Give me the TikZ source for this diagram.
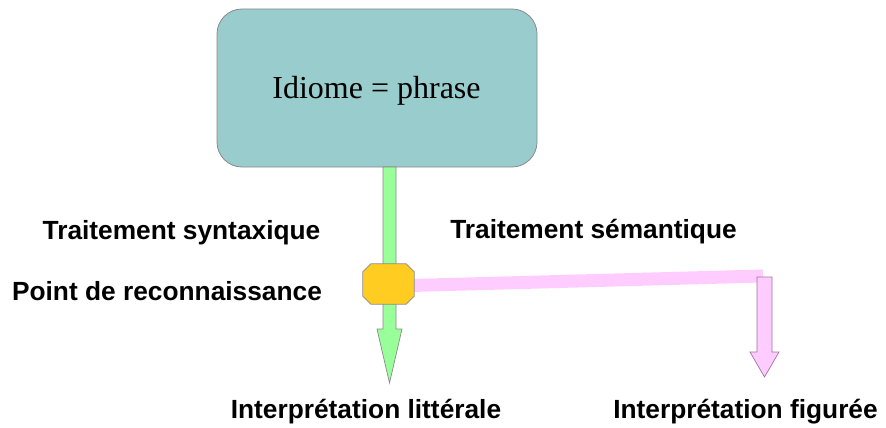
\documentclass[tikz,border=0pt]{standalone}
\usepackage{fontspec}
\setmainfont{Liberation Serif}
\setsansfont{Liberation Sans}
\definecolor{boxteal}{HTML}{99CCCC}
\definecolor{arrgreen}{HTML}{99FF99}
\definecolor{octyellow}{HTML}{FFCC22}
\definecolor{barpink}{HTML}{FFCCFF}
\definecolor{pinkedge}{HTML}{A070A0}
\definecolor{edgegray}{HTML}{8A8A8A}
\tikzset{
  lbl/.style={font=\sffamily\bfseries\fontsize{26.3}{31}\selectfont, anchor=base, inner sep=0pt},
  mainbox/.style={draw=edgegray, fill=boxteal, rounded corners=25pt, minimum width=320pt, minimum height=158pt, inner sep=0pt, line width=0.8pt},
  octa/.style={minimum width=51pt, minimum height=40pt, inner sep=0pt},
  octfill/.style={draw=edgegray, fill=octyellow, line width=0.8pt},
  greenarrow/.style={draw=edgegray, fill=arrgreen, line width=0.7pt, line join=miter},
  pinkarrow/.style={draw=pinkedge, fill=barpink, line width=0.7pt, line join=miter}
}
\begin{document}
\begin{tikzpicture}[x=1pt,y=-1pt]
\useasboundingbox (0,0) rectangle (886,428);
% main box
\node[mainbox] (box) at (377,88) {};
\node[font=\fontsize{32}{38}\selectfont, anchor=base, inner sep=0pt] (title) at (376.5,98) {Idiome = phrase};
% green arrow
\coordinate (gtop) at (389.5,167);
\coordinate (gtip) at (389.5,383);
\path[greenarrow] ([xshift=-6.5pt]gtop) -- ([xshift=-6.5pt]gtop |- 0,329) -- ([xshift=-12.5pt]gtop |- 0,329) -- (gtip) -- ([xshift=12.5pt]gtop |- 0,329) -- ([xshift=6.5pt]gtop |- 0,329) -- ([xshift=6.5pt]gtop) -- cycle;
% pink bar
\coordinate (pend) at (763,276);
\coordinate (pstart) at (410,285.5);
\draw[barpink, line width=13pt] (pstart) -- (pend);
% pink arrow
\coordinate (ptop) at (764.5,277);
\coordinate (ptip) at (764.5,377);
\path[pinkarrow] ([xshift=-7.5pt]ptop) -- ([xshift=-7.5pt]ptop |- 0,352) -- ([xshift=-14.5pt]ptop |- 0,352) -- (ptip) -- ([xshift=14.5pt]ptop |- 0,352) -- ([xshift=7.5pt]ptop |- 0,352) -- ([xshift=7.5pt]ptop) -- cycle;
% octagon
\node[octa] (oct) at (388.5,284) {};
\path[octfill] ([xshift=8pt]oct.north west) -- ([xshift=-8pt]oct.north east) -- ([yshift=-8pt]oct.north east) -- ([yshift=8pt]oct.south east) -- ([xshift=-8pt]oct.south east) -- ([xshift=8pt]oct.south west) -- ([yshift=8pt]oct.south west) -- ([yshift=-8pt]oct.north west) -- cycle;
% labels
\node[lbl] (ts) at (181.5,239) {Traitement syntaxique};
\node[lbl] (pr) at (167,300) {Point de reconnaissance};
\node[lbl] (tsem) at (593.5,238) {Traitement sémantique};
\node[lbl] (il) at (366,418) {Interprétation littérale};
\node[lbl] (ifig) at (745.5,418) {Interprétation figurée};
\end{tikzpicture}
\end{document}
